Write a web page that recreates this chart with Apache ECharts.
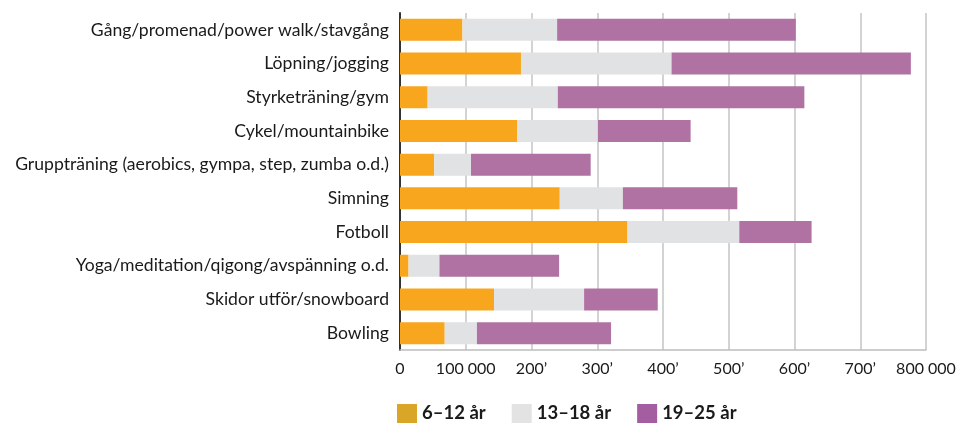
<!DOCTYPE html>
<html>
<head>
<meta charset="utf-8">
<script src="https://cdn.jsdelivr.net/npm/echarts@6/dist/echarts.min.js"></script>
<style>
  html, body { margin: 0; padding: 0; background: #fff; }
  #chart { width: 960px; height: 425px; }
</style>
</head>
<body>
<div id="chart"></div>
<script>
var activities = [
  'Gång/promenad/power walk/stavgång',
  'Löpning/jogging',
  'Styrketräning/gym',
  'Cykel/mountainbike',
  'Gruppträning (aerobics, gympa, step, zumba o.d.)',
  'Simning',
  'Fotboll',
  'Yoga/meditation/qigong/avspänning o.d.',
  'Skidor utför/snowboard',
  'Bowling'
];
var age6to12 = [95000, 184000, 42000, 178000, 52000, 243000, 346000, 13000, 143000, 68000];
var age13to18 = [144000, 229000, 198000, 123000, 56000, 96000, 170000, 47000, 137000, 49000];
var age19to25 = [363000, 364000, 375000, 141000, 182000, 174000, 110000, 182000, 112000, 204000];
var tickLabels = { 0: '0', 100000: '100 000', 200000: '200\u2019', 300000: '300\u2019', 400000: '400\u2019',
  500000: '500\u2019', 600000: '600\u2019', 700000: '700\u2019', 800000: '800 000' };

var font = 'Lato, "Open Sans", sans-serif';
var myChart = echarts.init(document.getElementById('chart'));

var option = {
  animation: false,
  textStyle: { fontFamily: font },
  grid: { left: 400, right: 34, top: 13, bottom: 75 },
  legend: {
    left: 392,
    top: 399,
    itemWidth: 20,
    itemHeight: 19,
    itemGap: 26,
    icon: 'rect',
    textStyle: { fontSize: 18.5, fontWeight: 'bold', color: '#1a1a1a', fontFamily: font },
    data: [
      { name: '6–12 år', itemStyle: { color: '#D9A628' } },
      { name: '13–18 år', itemStyle: { color: '#E3E3E3' } },
      { name: '19–25 år', itemStyle: { color: '#A55DA1' } }
    ]
  },
  xAxis: {
    type: 'value',
    min: 0,
    max: 800000,
    interval: 100000,
    axisLine: { show: true, lineStyle: { color: '#bdbdbd', width: 1.5 } },
    axisTick: { show: false },
    splitLine: { lineStyle: { color: '#c4c4c4', width: 1.5 } },
    axisLabel: {
      fontSize: 16,
      color: '#1a1a1a',
      margin: 11,
      formatter: function (v) { return tickLabels[v]; }
    }
  },
  yAxis: {
    type: 'category',
    inverse: true,
    data: activities,
    axisLine: { lineStyle: { color: '#333', width: 2 } },
    axisTick: { show: false },
    axisLabel: { fontSize: 17.6, color: '#1a1a1a', margin: 11 }
  },
  series: [
    { name: '6–12 år', type: 'bar', stack: 'total', barWidth: 22, itemStyle: { color: '#F7A61E' }, data: age6to12 },
    { name: '13–18 år', type: 'bar', stack: 'total', barWidth: 22, itemStyle: { color: '#E1E2E3' }, data: age13to18 },
    { name: '19–25 år', type: 'bar', stack: 'total', barWidth: 22, itemStyle: { color: '#B072A3' }, data: age19to25 }
  ]
};

myChart.setOption(option);
</script>
</body>
</html>
